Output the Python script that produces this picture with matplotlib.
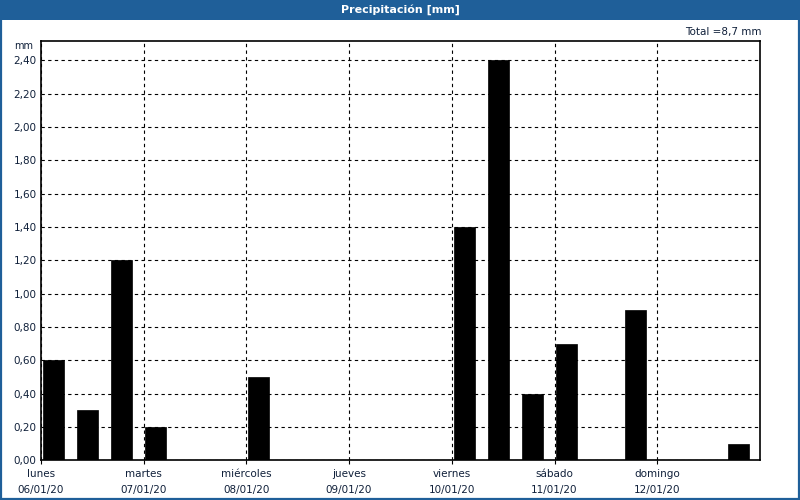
import matplotlib
matplotlib.use("Agg")
import matplotlib.pyplot as plt
from matplotlib.patches import Rectangle
import numpy as np

# Data
start_hours = [0, 8, 16, 24, 48, 96, 104, 112, 120, 136, 160]
precip_mm = [0.6, 0.3, 1.2, 0.2, 0.5, 1.4, 2.4, 0.4, 0.7, 0.9, 0.1]
day_names = ["lunes", "martes", "miércoles", "jueves", "viernes", "sábado", "domingo"]
day_dates = ["06/01/20", "07/01/20", "08/01/20", "09/01/20", "10/01/20", "11/01/20", "12/01/20"]
y_ticks = [0.0, 0.2, 0.4, 0.6, 0.8, 1.0, 1.2, 1.4, 1.6, 1.8, 2.0, 2.2, 2.4]
title = "Precipitación [mm]"
total_text = "Total =8,7 mm"

blue = "#1f5f99"
txt = "#10203a"
plt.rcParams['font.family'] = ['DejaVu Sans']

fig = plt.figure(figsize=(8, 5), dpi=100, facecolor="white")
# title bar
fig.patches.append(Rectangle((0, 480/500), 1, 20/500, transform=fig.transFigure,
                             facecolor=blue, edgecolor="none", zorder=0))
fig.patches.append(Rectangle((0.001, 0.002), 0.998, 0.996, transform=fig.transFigure,
                             facecolor="none", edgecolor=blue, linewidth=1.6, zorder=5))
fig.text(0.5, 490/500, title, color="white", fontsize=8, fontweight="bold",
         ha="center", va="center")

ax = fig.add_axes([40.8/800, (500-460.3)/500, (760-40.8)/800, (460.3-40.7)/500])
x = np.array(start_hours) / 24.0 + 0.019
ax.bar(x, precip_mm, width=0.204, align="edge", color="black", edgecolor="black",
       linewidth=0.5, zorder=3)

ax.set_xlim(0, 7)
ax.set_ylim(0, 2.518)
ax.set_yticks(y_ticks)
ax.set_yticklabels([f"{v:.2f}".replace(".", ",") for v in y_ticks], fontsize=7.5, color=txt)
ax.set_xticks(range(7))
ax.set_xticklabels([f"{n}\n{d}" for n, d in zip(day_names, day_dates)],
                   fontsize=7.5, color=txt, linespacing=1.85)
ax.tick_params(axis="y", length=0, pad=3)
ax.tick_params(axis="x", length=3, pad=3, color="black")
ax.grid(True, color="black", linestyle=(0, (3, 3)), linewidth=0.8, zorder=1)
for s in ax.spines.values():
    s.set_linewidth(1.2)
    s.set_color("black")
ax.set_facecolor("white")

ax.text(-0.011, 1.0, "mm", transform=ax.transAxes, ha="right", va="top",
        fontsize=7, color=txt)
fig.text(762/800, (500-32)/500, total_text, ha="right", va="center",
         fontsize=7.5, color=txt)

fig.savefig("out.png", dpi=100, facecolor="white")
